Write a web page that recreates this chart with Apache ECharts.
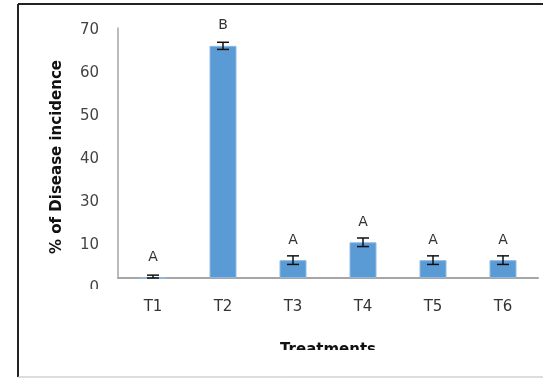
<!DOCTYPE html>
<html>
<head>
<meta charset="utf-8">
<script src="https://cdn.jsdelivr.net/npm/echarts@6/dist/echarts.min.js"></script>
<style>
  html, body { margin: 0; padding: 0; background: #fff; }
  #chart { width: 543px; height: 378px; }
</style>
</head>
<body>
<div id="chart"></div>
<script>
// Disease incidence per treatment, with error bars and significance letters
const treatments = ['T1', 'T2', 'T3', 'T4', 'T5', 'T6'];
const incidence = [0, 65, 5, 10, 5, 5];
const errors = [0.8, 1, 1.2, 1.2, 1.2, 1.2];
const groups = ['A', 'B', 'A', 'A', 'A', 'A'];
const yTickLabels = ['0', '10', '30', '40', '50', '60', '70'];

const font = 'DejaVu Sans';
const errData = incidence.map((v, i) => [i, Math.max(0, v - errors[i]), v + errors[i]]);

const chart = echarts.init(document.getElementById('chart'), null, { renderer: 'canvas' });
chart.setOption({
  animation: false,
  backgroundColor: '#ffffff',
  grid: [
    { left: 118, top: 28, width: 420, height: 250 },
    { left: 118, top: 30, width: 420, height: 258 }
  ],
  xAxis: [
    {
      gridIndex: 0,
      type: 'category',
      data: treatments,
      axisLine: { lineStyle: { color: '#a6a6a6', width: 2 } },
      axisTick: { show: false },
      axisLabel: { color: '#333', fontFamily: font, fontSize: 15, margin: 22 },
      name: 'Treatments',
      nameLocation: 'middle',
      nameGap: 65,
      nameTextStyle: { color: '#111', fontFamily: font, fontWeight: 'bold', fontSize: 15 }
    },
    { gridIndex: 1, type: 'value', show: false }
  ],
  yAxis: [
    {
      gridIndex: 0,
      type: 'value',
      min: 0,
      max: 70,
      axisLine: { show: true, lineStyle: { color: '#a6a6a6', width: 1.5 } },
      axisTick: { show: false },
      axisLabel: { show: false },
      splitLine: { show: false },
      name: '% of Disease incidence',
      nameLocation: 'middle',
      nameRotate: 90,
      nameGap: 53,
      nameTextStyle: { color: '#111', fontFamily: font, fontWeight: 'bold', fontSize: 15, padding: [0, 8, 0, 0] }
    },
    {
      gridIndex: 1,
      type: 'category',
      data: yTickLabels,
      boundaryGap: false,
      axisLine: { show: false },
      axisTick: { show: false },
      axisLabel: { color: '#444', fontFamily: font, fontSize: 15, margin: 19 }
    }
  ],
  series: [
    {
      type: 'bar',
      xAxisIndex: 0,
      yAxisIndex: 0,
      data: incidence,
      barWidth: 27,
      itemStyle: { color: '#5b9bd5', borderColor: '#8fb9e2', borderWidth: 1 },
      label: {
        show: true,
        position: 'top',
        distance: 13,
        formatter: p => groups[p.dataIndex],
        color: '#333',
        fontFamily: font,
        fontSize: 14
      },
      z: 2
    },
    {
      type: 'custom',
      xAxisIndex: 0,
      yAxisIndex: 0,
      data: errData,
      z: 3,
      renderItem: function (params, api) {
        const x = api.value(0);
        const lo = api.coord([x, api.value(1)]);
        const hi = api.coord([x, api.value(2)]);
        const half = 6;
        const style = { stroke: '#111', lineWidth: 1.5 };
        return {
          type: 'group',
          children: [
            { type: 'line', shape: { x1: lo[0], y1: lo[1], x2: hi[0], y2: hi[1] }, style: style },
            { type: 'line', shape: { x1: hi[0] - half, y1: hi[1], x2: hi[0] + half, y2: hi[1] }, style: style },
            { type: 'line', shape: { x1: lo[0] - half, y1: lo[1], x2: lo[0] + half, y2: lo[1] }, style: style }
          ]
        };
      }
    }
  ],
  graphic: [
    // page frame
    { type: 'line', shape: { x1: 18, y1: 4, x2: 543, y2: 4 }, style: { stroke: '#222', lineWidth: 2 } },
    { type: 'line', shape: { x1: 18, y1: 4, x2: 18, y2: 377 }, style: { stroke: '#222', lineWidth: 2 } },
    { type: 'line', shape: { x1: 18, y1: 377, x2: 543, y2: 377 }, style: { stroke: '#bbb', lineWidth: 1 } },
    // chart area ends just below the axis title and the lowest tick label
    { type: 'rect', z: 100, shape: { x: 240, y: 350, width: 180, height: 26 }, style: { fill: '#fff' } },
    { type: 'rect', z: 100, shape: { x: 80, y: 289, width: 30, height: 14 }, style: { fill: '#fff' } }
  ]
});
</script>
</body>
</html>
